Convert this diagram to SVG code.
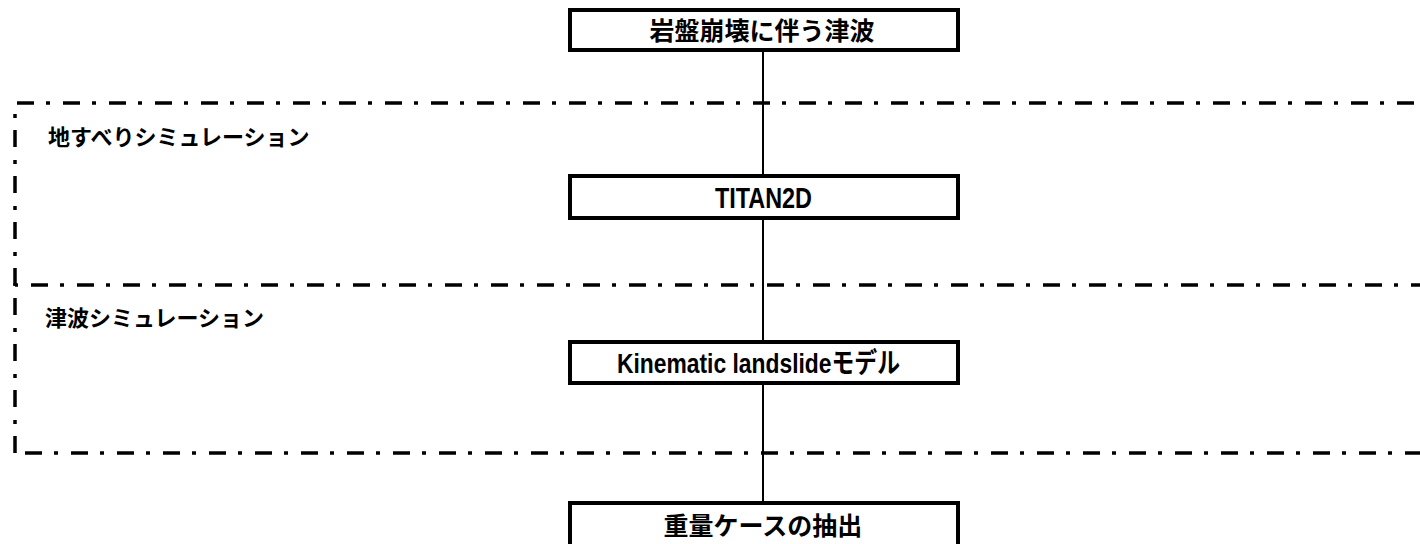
<svg xmlns="http://www.w3.org/2000/svg" width="1420" height="544" viewBox="0 0 1420 544">
  <style>
    .box { fill: #ffffff; stroke: #000000; stroke-width: 4; }
    .jp { font-family: "Noto Sans CJK JP", "Liberation Sans", sans-serif; font-weight: bold; fill: #000000; }
    .lat { font-family: "Liberation Sans", "Noto Sans CJK JP", sans-serif; font-weight: bold; fill: #000000; }
    .region { fill: none; stroke: #000000; stroke-width: 3.5; stroke-dasharray: 17 12 4 13; }
    .conn { stroke: #000000; stroke-width: 2; fill: none; }
  </style>
  <rect width="1420" height="544" fill="#ffffff"/>
  <g id="regions">
    <path class="region" d="M15,285 V103 H1425"/>
    <path class="region" d="M15,453 V285 H1425"/>
    <path class="region" d="M25,453 H1425"/>
  </g>
  <g id="connectors">
    <line class="conn" x1="763" y1="50" x2="763" y2="503"/>
  </g>
  <g id="label-landslide">
    <text class="jp" x="48" y="145" font-size="22">地すべりシミュレーション</text>
  </g>
  <g id="label-tsunami">
    <text class="jp" x="45" y="326" font-size="22">津波シミュレーション</text>
  </g>
  <g id="node-top">
    <rect class="box" x="570" y="10" width="388" height="40"/>
    <text class="jp" x="762" y="40" font-size="25" text-anchor="middle">岩盤崩壊に伴う津波</text>
  </g>
  <g id="node-titan">
    <rect class="box" x="570" y="176" width="388" height="42"/>
    <text class="lat" x="715" y="208" font-size="29" textLength="97" lengthAdjust="spacingAndGlyphs">TITAN2D</text>
  </g>
  <g id="node-kinematic">
    <rect class="box" x="570" y="342" width="388" height="41"/>
    <text class="lat" x="617" y="373" font-size="28" textLength="283" lengthAdjust="spacingAndGlyphs">Kinematic landslideモデル</text>
  </g>
  <g id="node-bottom">
    <rect class="box" x="570" y="503" width="388" height="60"/>
    <text class="jp" x="763" y="535" font-size="25" text-anchor="middle">重量ケースの抽出</text>
  </g>
</svg>
